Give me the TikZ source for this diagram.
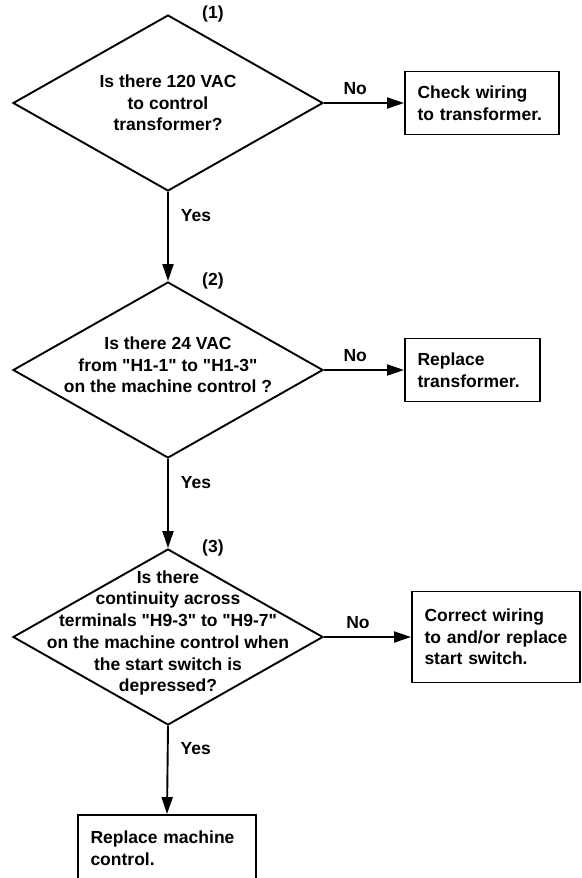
\documentclass[tikz,border=0pt]{standalone}
\usepackage{fontspec}
\setmainfont{Liberation Sans}
\usetikzlibrary{shapes.geometric,arrows.meta,positioning}

\newcommand{\qmark}{\textquotedbl}
\tikzset{
  decision/.style={diamond, draw, line width=1.9pt, inner sep=0pt,
    minimum width=310pt, minimum height=176pt},
  qtext/.style={align=center, inner sep=0pt},
  answer/.style={rectangle, draw, line width=1.9pt, align=left,
    inner xsep=12.5pt, inner ysep=0pt, text width=#1},
  flow/.style={->, line width=1.9pt},
  nolbl/.style={above=5pt, pos=.39, inner sep=2pt},
  yeslbl/.style={right=10pt, pos=.26, inner sep=2pt},
  steplbl/.style={inner sep=2pt},
}

\begin{document}
\begin{tikzpicture}[x=1pt, y=-1pt, >={Triangle[length=17pt,width=11pt]},
  font=\fontsize{17.5}{21.7}\selectfont\bfseries]
  \useasboundingbox (0,0) rectangle (581,878);
  \clip (0,0) rectangle (581,878);

  % questions
  \node[decision] (q1) at (168,103) {};
  \node[qtext] (q1txt) at (q1.center) {Is there 120 VAC\\to control\\transformer?};
  \node[steplbl, right=32pt of q1.north] (n1) {(1)};

  \node[decision] (q2) at (168,370) {};
  \node[qtext] (q2txt) at ([yshift=5pt]q2.center) {Is there 24 VAC\\from \qmark H1-1\qmark\ to \qmark H1-3\qmark\\on the machine control ?};
  \node[steplbl, right=32pt of q2.north] (n2) {(2)};

  \node[decision] (q3) at (168,637) {};
  \node[qtext] (q3txt) at ([yshift=4pt]q3.center) {Is there\\continuity across\\terminals \qmark H9-3\qmark\ to \qmark H9-7\qmark\\on the machine control when\\the start switch is\\depressed?};
  \node[steplbl, right=32pt of q3.north] (n3) {(3)};

  % answers
  \node[answer=129pt, minimum height=63pt] (a1) at (482,103) {Check wiring\\to transformer.};
  \node[answer=110pt, minimum height=63pt] (a2) at (472.5,370) {Replace\\transformer.};
  \node[answer=143pt, minimum height=91pt] (a3) at (496,637) {Correct wiring\\to and/or replace\\start switch.};
  \node[answer=153pt, minimum height=66pt] (a4) at (167,848) {Replace machine\\control.};

  % connectors
  \draw[flow] (q1.east) -- node[nolbl] (no1) {No} (a1.west);
  \draw[flow] (q2.east) -- node[nolbl] (no2) {No} (a2.west);
  \draw[flow] (q3.east) -- node[nolbl] (no3) {No} (a3.west);
  \draw[flow] (q1.south) -- node[yeslbl] (yes1) {Yes} (q2.north);
  \draw[flow] (q2.south) -- node[yeslbl] (yes2) {Yes} (q3.north);
  \draw[flow] (q3.south) -- node[yeslbl] (yes3) {Yes} (a4.north);
\end{tikzpicture}
\end{document}
